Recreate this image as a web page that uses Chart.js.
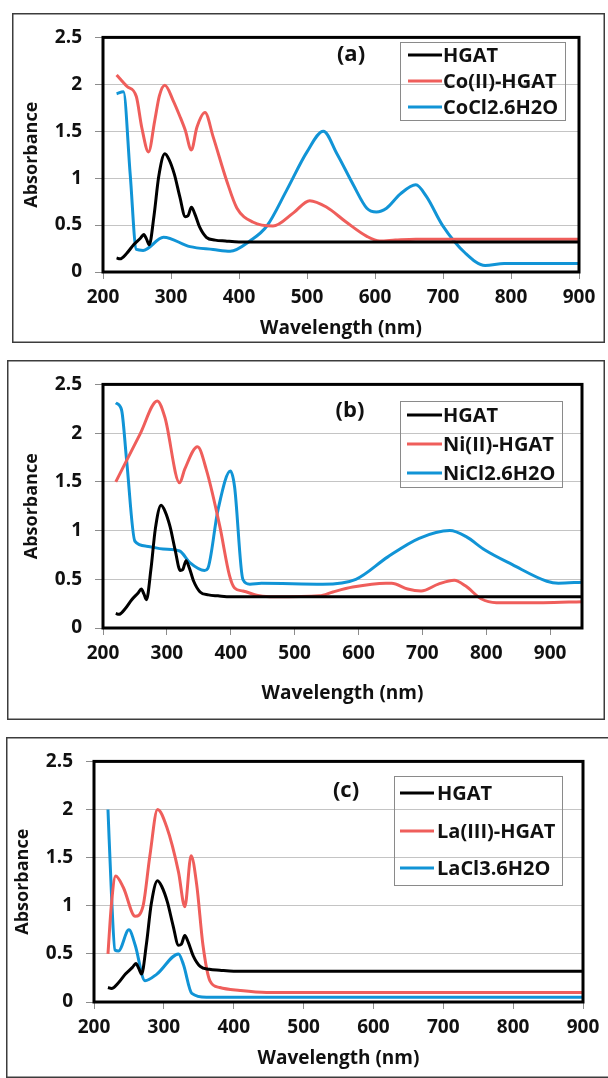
<!DOCTYPE html>
<html lang="en">
<head>
<meta charset="UTF-8">
<title>UV-Vis spectra of HGAT and its complexes</title>
<script src="https://cdn.jsdelivr.net/npm/chart.js"></script>
<style>
  body { margin: 0; background: #fff; overflow: hidden; }
  canvas { position: absolute; }
</style>
</head>
<body>
<canvas id="chartA"></canvas>
<canvas id="chartB"></canvas>
<canvas id="chartC"></canvas>
<script>
// HGAT ligand (same spectrum in all three panels)
const hgatWl  = [220, 225, 235, 245, 255, 260, 264, 268, 275, 282, 291, 297, 305, 313, 321, 325, 330, 335, 342, 352, 365, 380, 400, 420, 900, 950];
const hgatAbs = [0.15, 0.14, 0.20, 0.29, 0.36, 0.40, 0.35, 0.29, 0.60, 1.02, 1.26, 1.20, 1.04, 0.80, 0.59, 0.60, 0.69, 0.62, 0.48, 0.37, 0.34, 0.33, 0.32, 0.32, 0.32, 0.32];

// panel (a)
const coWl  = [220, 235, 249, 257, 267, 276, 283, 291, 303, 313, 321, 330, 338, 350, 362, 382, 397, 421, 450, 480, 504, 529, 558, 588, 607, 630, 660, 900];
const coAbs = [2.10, 1.98, 1.87, 1.54, 1.28, 1.61, 1.88, 1.99, 1.83, 1.66, 1.51, 1.30, 1.54, 1.70, 1.44, 0.97, 0.68, 0.53, 0.49, 0.63, 0.76, 0.69, 0.53, 0.38, 0.33, 0.34, 0.35, 0.35];
const coSaltWl  = [220, 230, 240, 249, 259, 289, 328, 362, 387, 416, 441, 470, 500, 524, 544, 568, 588, 602, 617, 637, 660, 676, 699, 733, 762, 790, 900];
const coSaltAbs = [1.90, 1.92, 1.04, 0.24, 0.23, 0.37, 0.27, 0.24, 0.22, 0.33, 0.49, 0.87, 1.28, 1.50, 1.26, 0.93, 0.68, 0.64, 0.68, 0.83, 0.93, 0.80, 0.50, 0.20, 0.07, 0.09, 0.09];

// panel (b)
const niWl  = [220, 258, 285, 297, 320, 328, 348, 362, 383, 398, 406, 419, 445, 469, 539, 560, 591, 643, 652, 677, 698, 725, 750, 768, 792, 816, 889, 950];
const niAbs = [1.50, 1.99, 2.33, 2.16, 1.49, 1.63, 1.86, 1.62, 1.04, 0.54, 0.41, 0.38, 0.33, 0.32, 0.33, 0.37, 0.42, 0.46, 0.46, 0.40, 0.38, 0.45, 0.49, 0.43, 0.30, 0.26, 0.26, 0.27];
const niSaltWl  = [220, 229, 237, 250, 268, 294, 320, 336, 359, 364, 380, 399.5, 406, 419, 430, 448, 544, 596, 646, 695, 743, 768, 798, 841, 895, 913, 950];
const niSaltAbs = [2.31, 2.24, 1.72, 0.89, 0.84, 0.81, 0.79, 0.67, 0.59, 0.61, 1.21, 1.61, 1.45, 0.50, 0.45, 0.46, 0.45, 0.50, 0.73, 0.92, 1.00, 0.94, 0.80, 0.65, 0.48, 0.46, 0.47];

// panel (c)
const laWl  = [220, 225, 231, 242, 259, 270, 280, 291, 304, 321, 330, 339, 347, 356, 366, 380, 409, 447, 900];
const laAbs = [0.50, 1.02, 1.31, 1.19, 0.89, 0.99, 1.52, 2.00, 1.82, 1.35, 0.99, 1.52, 1.22, 0.59, 0.22, 0.15, 0.12, 0.10, 0.10];
const laSaltWl  = [220, 225, 230, 235, 250, 259, 273, 290, 321, 328, 340, 361, 394, 900];
const laSaltAbs = [2.00, 1.12, 0.54, 0.53, 0.75, 0.59, 0.22, 0.29, 0.50, 0.39, 0.09, 0.05, 0.05, 0.05];

const xTicks = [200, 300, 400, 500, 600, 700, 800, 900];

const BLACK = '#000000';
const RED = '#ef5e5b';
const BLUE = '#1194d6';
const TEXT = '#111111';
const FONT = '"Open Sans"';

function pts(xs, ys) {
    return xs.map((x, i) => ({ x: x, y: ys[i] }));
}

// frame, plot border, legend and panel letter
const panelDecor = {
    id: 'panelDecor',
    beforeDraw(chart) {
        const ctx = chart.ctx;
        ctx.save();
        ctx.strokeStyle = '#3c3c3c';
        ctx.lineWidth = 1.5;
        ctx.strokeRect(0.75, 0.75, chart.width - 1.5, chart.height - 1.5);
        ctx.restore();
    },
    afterDatasetsDraw(chart, args, opts) {
        const ctx = chart.ctx;
        const a = chart.chartArea;
        const ox = opts.origin[0], oy = opts.origin[1];
        const L = opts.legend;
        ctx.save();
        ctx.strokeStyle = '#000';
        ctx.lineWidth = 3;
        ctx.strokeRect(a.left, a.top, a.right - a.left, a.bottom - a.top);

        ctx.strokeStyle = '#8a8a8a';
        ctx.lineWidth = 1;
        ctx.strokeRect(L.box[0] - ox + 0.5, L.box[1] - oy + 0.5, L.box[2] - L.box[0], L.box[3] - L.box[1]);

        ctx.font = 'bold 20px ' + FONT;
        ctx.textBaseline = 'middle';
        ctx.textAlign = 'left';
        chart.data.datasets.forEach((ds, i) => {
            const y = L.rows[i] - oy;
            ctx.strokeStyle = ds.borderColor;
            ctx.lineWidth = 3;
            ctx.beginPath();
            ctx.moveTo(L.line[0] - ox, y);
            ctx.lineTo(L.line[1] - ox, y);
            ctx.stroke();
            ctx.fillStyle = TEXT;
            ctx.fillText(ds.label, L.textX - ox, y + 1);
        });

        ctx.font = 'bold 22px ' + FONT;
        ctx.textAlign = 'center';
        ctx.fillText(opts.tag, opts.tagPos[0] - ox, opts.tagPos[1] - oy);
        ctx.restore();
    }
};

function makePanel(id, box, plot, xMax, datasets, decor, pads) {
    const cv = document.getElementById(id);
    cv.width = box.w;
    cv.height = box.h;
    cv.style.left = box.x + 'px';
    cv.style.top = box.y + 'px';
    decor.origin = [box.x, box.y];

    return new Chart(cv.getContext('2d'), {
        type: 'line',
        data: { datasets: datasets },
        options: {
            responsive: false,
            animation: false,
            layout: { padding: { top: plot.t - box.y, right: box.x + box.w - plot.r, left: 0, bottom: 0 } },
            elements: {
                point: { radius: 0 },
                line: { borderWidth: 3, cubicInterpolationMode: 'monotone' }
            },
            plugins: {
                legend: { display: false },
                tooltip: { enabled: false },
                panelDecor: decor
            },
            scales: {
                x: {
                    type: 'linear',
                    min: 200,
                    max: xMax,
                    afterFit: s => { s.height = box.y + box.h - plot.b; },
                    afterBuildTicks: s => { s.ticks = xTicks.map(v => ({ value: v })); },
                    ticks: { font: { family: FONT, size: 19, weight: 'bold' }, color: TEXT, padding: 7, maxRotation: 0, autoSkip: false },
                    grid: { drawOnChartArea: false, tickLength: 7, color: '#8c8c8c', tickColor: '#8c8c8c' },
                    border: { display: false },
                    title: { display: true, text: 'Wavelength (nm)', color: TEXT,
                             font: { family: FONT, size: 19, weight: 'bold' }, padding: { top: 0, bottom: pads.x } }
                },
                y: {
                    min: 0,
                    max: 2.5,
                    afterFit: s => { s.width = plot.l - box.x; },
                    ticks: { stepSize: 0.5, font: { family: FONT, size: 19, weight: 'bold' }, color: TEXT, padding: 13,
                             callback: v => String(v) },
                    grid: { color: '#c4c4c4', tickColor: '#8c8c8c', tickLength: 8 },
                    border: { display: false },
                    title: { display: true, text: 'Absorbance', color: TEXT,
                             font: { family: FONT, size: 18, weight: 'bold' }, padding: { top: pads.y, bottom: 0 } }
                }
            }
        },
        plugins: [panelDecor]
    });
}

function series(label, color, xs, ys) {
    return { label: label, data: pts(xs, ys), borderColor: color, backgroundColor: color, fill: false };
}

makePanel('chartA',
    { x: 12, y: 13, w: 593, h: 330 },
    { l: 103, r: 579, t: 26, b: 272 },
    900,
    [series('HGAT', BLACK, hgatWl, hgatAbs),
     series('Co(II)-HGAT', RED, coWl, coAbs),
     series('CoCl2.6H2O', BLUE, coSaltWl, coSaltAbs)],
    { tag: '(a)', tagPos: [351, 55],
      legend: { box: [400, 42, 565, 120], rows: [55, 81, 107], line: [408, 442], textX: 443 } },
    { x: 3, y: 9 });

makePanel('chartB',
    { x: 7, y: 360, w: 598, h: 360 },
    { l: 103, r: 582, t: 381, b: 628 },
    950,
    [series('HGAT', BLACK, hgatWl, hgatAbs),
     series('Ni(II)-HGAT', RED, niWl, niAbs),
     series('NiCl2.6H2O', BLUE, niSaltWl, niSaltAbs)],
    { tag: '(b)', tagPos: [350, 411],
      legend: { box: [400, 401, 562, 487], rows: [415, 444, 473], line: [407, 442], textX: 443 } },
    { x: 15, y: 14 });

makePanel('chartC',
    { x: 6, y: 737, w: 604, h: 341 },
    { l: 94, r: 583, t: 752, b: 1002 },
    900,
    [series('HGAT', BLACK, hgatWl, hgatAbs),
     series('La(III)-HGAT', RED, laWl, laAbs),
     series('LaCl3.6H2O', BLUE, laSaltWl, laSaltAbs)],
    { tag: '(c)', tagPos: [346, 791],
      legend: { box: [394, 776, 562, 885], rows: [793, 831, 868], line: [400, 434], textX: 437 } },
    { x: 8, y: 6 });
</script>
</body>
</html>
